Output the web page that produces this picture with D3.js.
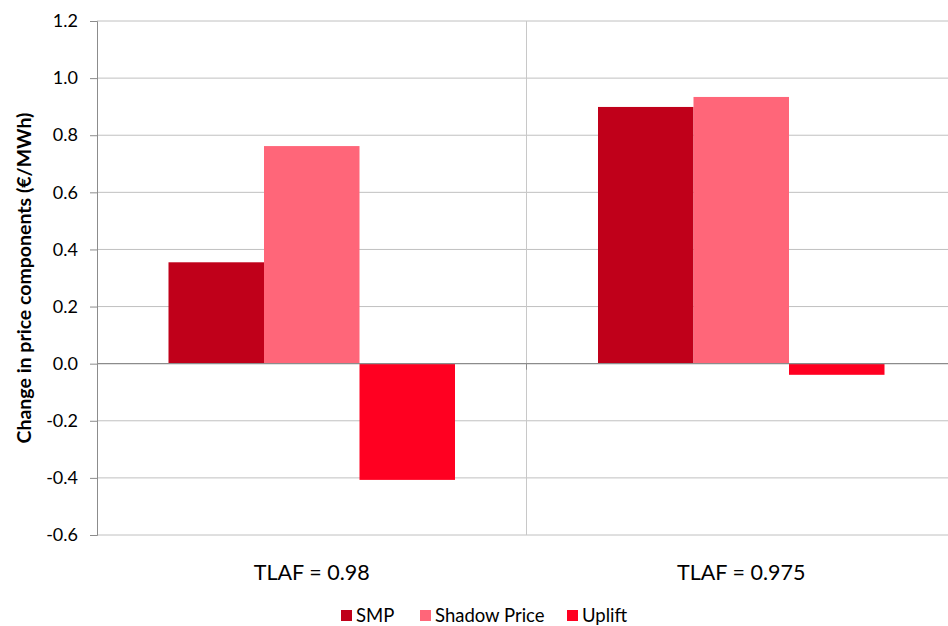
<!DOCTYPE html>
<html><head><meta charset="utf-8">
<script src="https://cdn.jsdelivr.net/npm/d3@7"></script>
<style>body{margin:0;background:#fff;} text{font-family:Lato, "Open Sans", sans-serif;fill:#000;}</style>
</head><body>
<svg id="c" width="948" height="626"></svg>
<script>
const categories = ["TLAF = 0.98", "TLAF = 0.975"];
const seriesNames = ["SMP", "Shadow Price", "Uplift"];
const smp = [0.355, 0.899];
const shadowPrice = [0.762, 0.934];
const uplift = [-0.407, -0.039];
const yTicks = [-0.6, -0.4, -0.2, 0.0, 0.2, 0.4, 0.6, 0.8, 1.0, 1.2];
const colors = ["#C0001A", "#FF6679", "#FF0021"];

(function () {
const values = [smp, shadowPrice, uplift];
const svg = d3.select("#c");
const pL = 97, pR = 956, pT = 21, pB = 535;

const y = d3.scaleLinear().domain([-0.6, 1.2]).range([pB, pT]);
const x = d3.scaleBand().domain(categories).range([pL, pR]).paddingInner(0).paddingOuter(0);
const barW = 95.5;
const inner = d3.scaleBand().domain(seriesNames).range([0, barW * 3]);

// gridlines
svg.append("g").selectAll("line").data(yTicks.filter(d => d !== 0)).join("line")
  .attr("x1", pL).attr("x2", pR)
  .attr("y1", d => y(d)).attr("y2", d => y(d))
  .attr("stroke", "#C0C0C0").attr("stroke-width", 1);
// category separator
svg.append("line").attr("x1", x(categories[1])).attr("x2", x(categories[1]))
  .attr("y1", pT).attr("y2", pB).attr("stroke", "#C8C8C8").attr("stroke-width", 1);

// bars
const groups = svg.append("g").selectAll("g").data(categories).join("g")
  .attr("transform", d => `translate(${x(d) + (x.bandwidth() - barW * 3) / 2},0)`);
groups.selectAll("rect").data((c, ci) => seriesNames.map((s, si) => ({s, si, v: values[si][ci]})))
  .join("rect")
  .attr("x", d => inner(d.s))
  .attr("width", inner.bandwidth())
  .attr("y", d => y(Math.max(0, d.v)))
  .attr("height", d => Math.abs(y(d.v) - y(0)))
  .attr("fill", d => colors[d.si]);

// zero axis line
svg.append("line").attr("x1", pL).attr("x2", pR).attr("y1", y(0)).attr("y2", y(0))
  .attr("stroke", "#8C8C8C").attr("stroke-width", 1.3);
svg.append("line").attr("x1", x(categories[1])).attr("x2", x(categories[1]))
  .attr("y1", y(0)).attr("y2", y(0) + 6).attr("stroke", "#8C8C8C").attr("stroke-width", 1);

// y axis
const fmt = d3.format(".1f");
const yAxis = d3.axisLeft(y).tickValues(yTicks).tickFormat(d => fmt(d).replace("−", "-")).tickSize(7).tickPadding(12);
const ga = svg.append("g").attr("transform", `translate(${pL},0)`).call(yAxis);
ga.select(".domain").attr("stroke", "#8C8C8C");
ga.selectAll(".tick line").attr("stroke", "#8C8C8C");
ga.selectAll(".tick text").attr("font-size", 18).attr("font-family", "Lato, sans-serif").attr("fill", "#000");

// x labels
svg.append("g").selectAll("text").data(categories).join("text")
  .attr("x", d => x(d) + x.bandwidth() / 2).attr("y", 580)
  .attr("text-anchor", "middle").attr("font-size", 21.5).text(d => d);

// y title
svg.append("text").attr("transform", `translate(31,${(pT + pB) / 2}) rotate(-90)`)
  .attr("text-anchor", "middle").attr("font-size", 19.5).attr("font-weight", "bold")
  .text("Change in price components (€/MWh)");

// legend
const legX = [341, 420, 567];
const leg = svg.append("g").selectAll("g").data(seriesNames).join("g")
  .attr("transform", (d, i) => `translate(${legX[i]},610)`);
leg.append("rect").attr("width", 11).attr("height", 11).attr("fill", (d, i) => colors[i]);
leg.append("text").attr("x", 15).attr("y", 12).attr("font-size", 18.5).text(d => d);
})();
</script>
</body></html>
